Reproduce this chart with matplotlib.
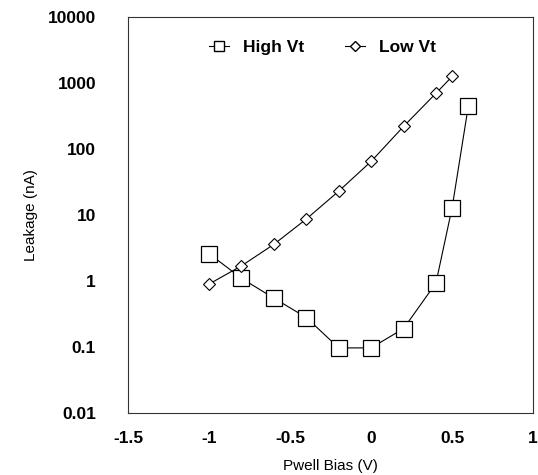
import matplotlib.pyplot as plt
from matplotlib.lines import Line2D

plt.rcParams['font.family'] = ['Liberation Sans', 'DejaVu Sans']

bias = [-1.0, -0.8, -0.6, -0.4, -0.2, 0.0, 0.2, 0.4, 0.5, 0.6]
high_vt = [2.6, 1.1, 0.55, 0.28, 0.097, 0.097, 0.19, 0.93, 13, 450]

bias_low = [-1.0, -0.8, -0.6, -0.4, -0.2, 0.0, 0.2, 0.4, 0.5]
low_vt = [0.9, 1.7, 3.6, 8.7, 23, 65, 220, 700, 1260]

xticks = [-1.5, -1, -0.5, 0, 0.5, 1]
xtick_labels = ['-1.5', '-1', '-0.5', '0', '0.5', '1']
yticks = [0.01, 0.1, 1, 10, 100, 1000, 10000]
ytick_labels = ['0.01', '0.1', '1', '10', '100', '1000', '10000']

fig = plt.figure(figsize=(5.38, 4.75), dpi=100)
ax = fig.add_axes([0.238, 0.1305, 0.753, 0.8335])

ax.plot(bias, high_vt, '-', color='black', linewidth=0.8,
        marker='s', markersize=11, markerfacecolor='white',
        markeredgecolor='black', markeredgewidth=0.9)
ax.plot(bias_low, low_vt, '-', color='black', linewidth=0.8,
        marker='D', markersize=6, markerfacecolor='white',
        markeredgecolor='black', markeredgewidth=0.8)

ax.set_yscale('log')
ax.set_xlim(-1.5, 1)
ax.set_ylim(0.01, 10000)
ax.set_xticks(xticks)
ax.set_xticklabels(xtick_labels)
ax.set_yticks(yticks)
ax.set_yticklabels(ytick_labels)
ax.minorticks_off()
ax.tick_params(length=0, labelsize=12.5)
ax.tick_params(axis='y', pad=23)
ax.tick_params(axis='x', pad=13)
for lbl in ax.get_xticklabels() + ax.get_yticklabels():
    lbl.set_fontweight('bold')

for sp in ax.spines.values():
    sp.set_linewidth(0.8)
    sp.set_color('#333333')

ax.set_xlabel('Pwell Bias (V)', fontsize=11, labelpad=9)
ax.set_ylabel('Leakage (nA)', fontsize=11, labelpad=7)

handles = [
    Line2D([], [], color='black', linewidth=0.8, marker='s', markersize=7,
           markerfacecolor='white', markeredgecolor='black', label='High Vt'),
    Line2D([], [], color='black', linewidth=0.8, marker='D', markersize=5,
           markerfacecolor='white', markeredgecolor='black', label='Low Vt'),
]
leg = ax.legend(handles=handles, loc='upper center', ncol=2, frameon=False,
                bbox_to_anchor=(0.48, 0.982), handlelength=1.15,
                handletextpad=0.8, columnspacing=2.4,
                prop={'weight': 'bold', 'size': 12.5})

fig.savefig('out.png', dpi=100, facecolor='white')
